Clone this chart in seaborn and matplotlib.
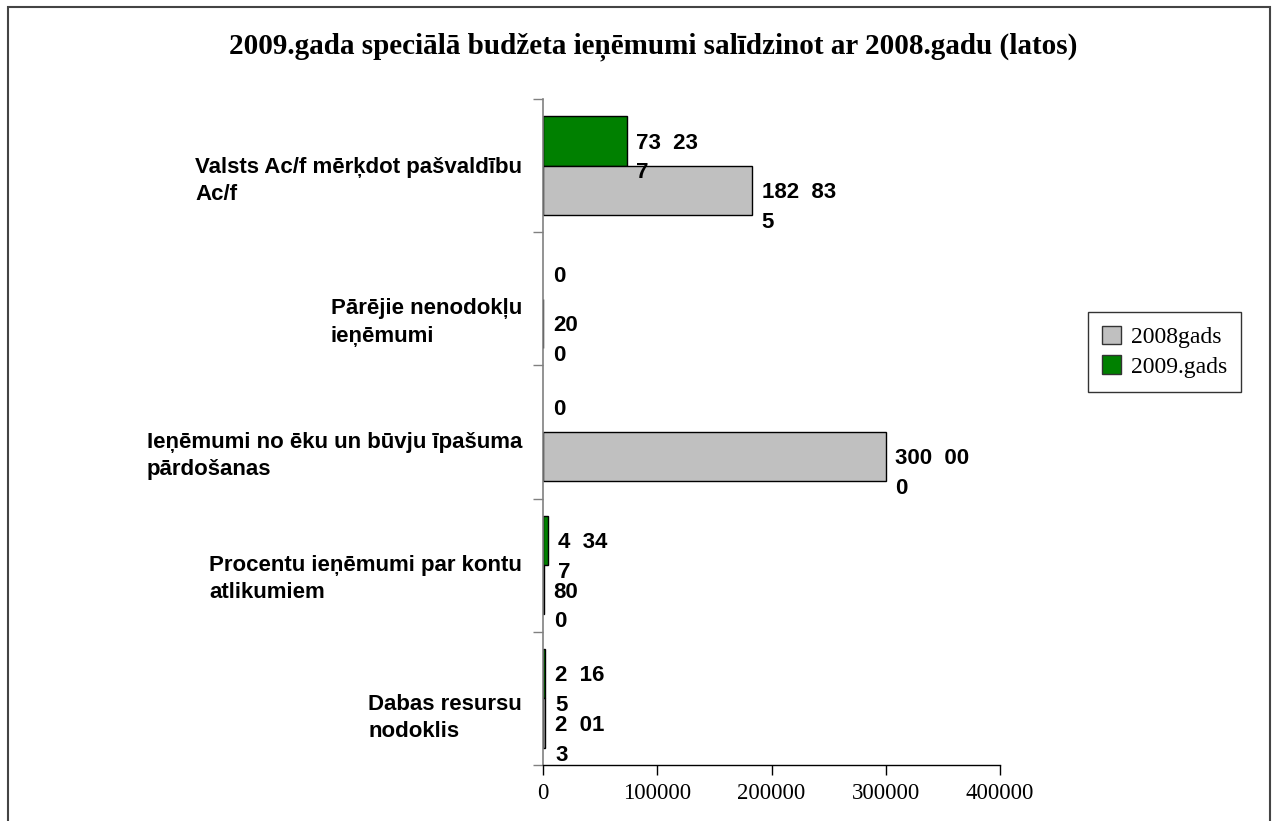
import numpy as np
import matplotlib
matplotlib.use("Agg")
import matplotlib.pyplot as plt
import matplotlib.transforms as mtransforms
import pandas as pd
import seaborn as sns
from matplotlib.patches import Rectangle

# data
categories = [
    "Valsts Ac/f mērķdot pašvaldību\nAc/f",
    "Pārējie nenodokļu\nieņēmumi",
    "Ieņēmumi no ēku un būvju īpašuma\npārdošanas",
    "Procentu ieņēmumi par kontu\natlikumiem",
    "Dabas resursu\nnodoklis",
]
series_names = ["2008gads", "2009.gads"]
values_2008 = [182835, 200, 300000, 800, 2013]
values_2009 = [73237, 0, 0, 4347, 2165]
# value labels as printed on the chart (odd wrapping kept)
labels_2008 = ["182  83\n5", "20\n0", "300  00\n0", "80\n0", "2  01\n3"]
labels_2009 = ["73  23\n7", "0", "0", "4  34\n7", "2  16\n5"]
x_ticks = [0, 100000, 200000, 300000, 400000]

df = pd.DataFrame({
    "kategorija": categories * 2,
    "gads": [series_names[0]] * 5 + [series_names[1]] * 5,
    "latos": values_2008 + values_2009,
})

sns.set_style("white")
plt.rcParams["text.color"] = "black"
plt.rcParams["xtick.labelcolor"] = "black"
plt.rcParams["ytick.labelcolor"] = "black"
sans = ["Liberation Sans", "DejaVu Sans"]
serif = ["Liberation Serif", "DejaVu Serif"]

fig = plt.figure(figsize=(12.77, 8.21), dpi=100)
ax = fig.add_axes([543 / 1277, 1 - 765 / 821, (1000 - 543) / 1277, (765 - 99) / 821])

colors = {"2008gads": "#C0C0C0", "2009.gads": "#008000"}
sns.barplot(
    data=df, y="kategorija", x="latos", hue="gads",
    hue_order=["2009.gads", "2008gads"], palette=colors,
    orient="h", width=0.74, edgecolor="black", linewidth=1,
    saturation=1, ax=ax, legend=False,
)

# hide outlines of zero-length bars
for p in ax.patches:
    if p.get_width() == 0:
        p.set_linewidth(0)

# value labels
for cont, labs in zip(ax.containers, [labels_2009, labels_2008]):
    for bar, lab in zip(cont, labs):
        ax.annotate(
            lab, (bar.get_width(), bar.get_y() + bar.get_height() / 2),
            xytext=(7, 6), textcoords="offset points",
            ha="left", va="top", fontsize=16, fontweight="bold",
            family=sans, linespacing=1.55, color="black",
        )

ax.set_xlim(0, 400000)
ax.set_ylim(4.5, -0.5)
ax.set_xticks(x_ticks)
ax.set_xticklabels([str(t) for t in x_ticks], family=serif, fontsize=16.5)
ax.set_xlabel("")
ax.set_ylabel("")

# category ticks between groups, labels at centers
ax.set_yticks(np.arange(len(categories)))
ax.set_yticks(np.arange(len(categories) + 1) - 0.5, minor=True)
ax.tick_params(axis="y", which="major", length=0, pad=15)
ax.tick_params(axis="y", which="minor", left=True, length=7, width=1, color="#808080")
ax.tick_params(axis="x", which="major", bottom=True, length=7, width=1, color="black", pad=6)
# labels sit a bit below the group centers in the original
label_drop = [10, 18, 18, 8, 14]
for lbl, d in zip(ax.get_yticklabels(), label_drop):
    lbl.set_fontfamily(sans)
    lbl.set_fontsize(16)
    lbl.set_fontweight("bold")
    lbl.set_multialignment("left")
    lbl.set_linespacing(1.4)
    lbl.set_transform(lbl.get_transform() + mtransforms.ScaledTranslation(0, -d / 100, fig.dpi_scale_trans))

sns.despine(ax=ax, top=True, right=True)
ax.spines["left"].set_color("#808080")
ax.spines["left"].set_linewidth(1.2)
ax.spines["bottom"].set_color("black")
ax.spines["bottom"].set_linewidth(1)

# legend: 2008 first
handles = [Rectangle((0, 0), 1, 1, facecolor=colors[n], edgecolor="#333333") for n in series_names]
leg = fig.legend(
    handles, series_names, loc="upper left",
    bbox_to_anchor=(1088 / 1277, 1 - 312 / 821), borderaxespad=0,
    prop={"family": serif, "size": 17}, frameon=True, fancybox=False,
    edgecolor="black", handlelength=0.8, handleheight=0.8,
    handletextpad=0.4, borderpad=0.6, labelspacing=0.3,
)
leg.get_frame().set_linewidth(1)

fig.suptitle(
    "2009.gada speciālā budžeta ieņēmumi salīdzinot ar 2008.gadu (latos)",
    x=653 / 1277, y=1 - 47 / 821, va="center",
    fontsize=21, fontweight="bold", family=serif, color="black",
)

# outer chart frame
fig.patches.append(Rectangle(
    (8 / 1277, -0.05), (1270 - 8) / 1277, 1.05 - 7 / 821,
    transform=fig.transFigure, fill=False, edgecolor="#444444", linewidth=1.5,
))

fig.savefig("out.png", dpi=100)
